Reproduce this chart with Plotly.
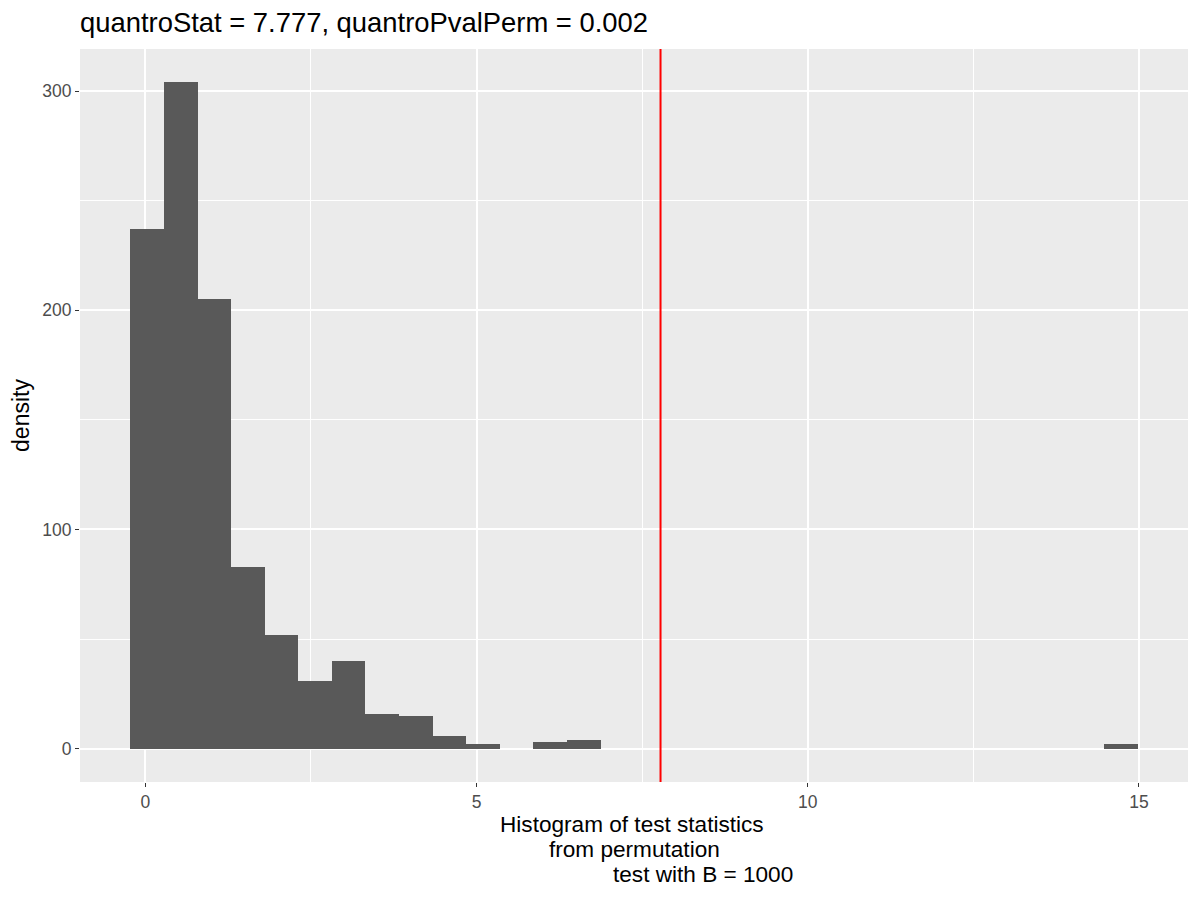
import plotly.graph_objects as go

# histogram of permutation statistics (30 bins, counts)
bin_start = -0.227
bin_width = 0.507
counts = [237, 304, 205, 83, 52, 31, 40, 16, 15, 6,
          2, 0, 3, 4, 0, 0, 0, 0, 0, 0,
          0, 0, 0, 0, 0, 0, 0, 0, 0, 2]
quantro_stat = 7.777
pval_perm = 0.002
x_ticks = [0, 5, 10, 15]
y_ticks = [0, 100, 200, 300]
x_title_lines = ['Histogram of test statistics',
                 'from permutation',
                 'test with B = 1000']

centers = [bin_start + (i + 0.5) * bin_width for i in range(len(counts))]

fig = go.Figure()
fig.add_trace(go.Bar(x=centers, y=counts, width=bin_width,
                     marker=dict(color='#595959', line=dict(width=0)),
                     showlegend=False, hoverinfo='x+y'))

fig.add_shape(type='line', x0=quantro_stat, x1=quantro_stat, y0=0, y1=1,
              xref='x', yref='paper', line=dict(color='red', width=2))

# x axis title as three lines (ggplot's tighter line height)
shifts = [(-2, -42), (0, -67), (69, -92)]
for line, (dx, dy) in zip(x_title_lines, shifts):
    fig.add_annotation(text=line, x=0.5, y=0, xref='paper', yref='paper',
                       xanchor='center', yanchor='middle', showarrow=False,
                       xshift=dx, yshift=dy,
                       font=dict(size=22.6, color='black'))

fig.update_layout(
    width=1200, height=900,
    margin=dict(l=72, r=20, t=41, b=126),
    paper_bgcolor='white', plot_bgcolor='#EBEBEB',
    font=dict(family='Liberation Sans, Arial, sans-serif', color='black'),
    bargap=0,
    title=dict(text=f'quantroStat = {quantro_stat}, quantroPvalPerm = {pval_perm}',
               x=0, xref='paper', xanchor='left',
               y=1 - 14.5 / 900, yref='container', yanchor='middle',
               font=dict(size=27.4, color='black')),
)

fig.update_xaxes(range=[-0.987, 15.74], tickvals=x_ticks,
                 showgrid=True, gridcolor='white', gridwidth=2.2,
                 minor=dict(tickvals=[2.5, 7.5, 12.5], showgrid=True,
                            gridcolor='white', gridwidth=1.1, ticks=''),
                 zeroline=False, ticks='outside', ticklen=4, tickwidth=1.1,
                 tickcolor='#333333',
                 tickfont=dict(size=17.5, color='#4D4D4D'))

fig.update_yaxes(range=[-15.2, 319.2], tickvals=y_ticks,
                 showgrid=True, gridcolor='white', gridwidth=2.2,
                 minor=dict(tickvals=[50, 150, 250], showgrid=True,
                            gridcolor='white', gridwidth=1.1, ticks=''),
                 zeroline=False, ticks='outside', ticklen=4, tickwidth=1.1,
                 tickcolor='#333333',
                 tickfont=dict(size=17.5, color='#4D4D4D'),
                 title=dict(text='density', font=dict(size=23, color='black'),
                            standoff=6))

fig.write_html('out.html')
